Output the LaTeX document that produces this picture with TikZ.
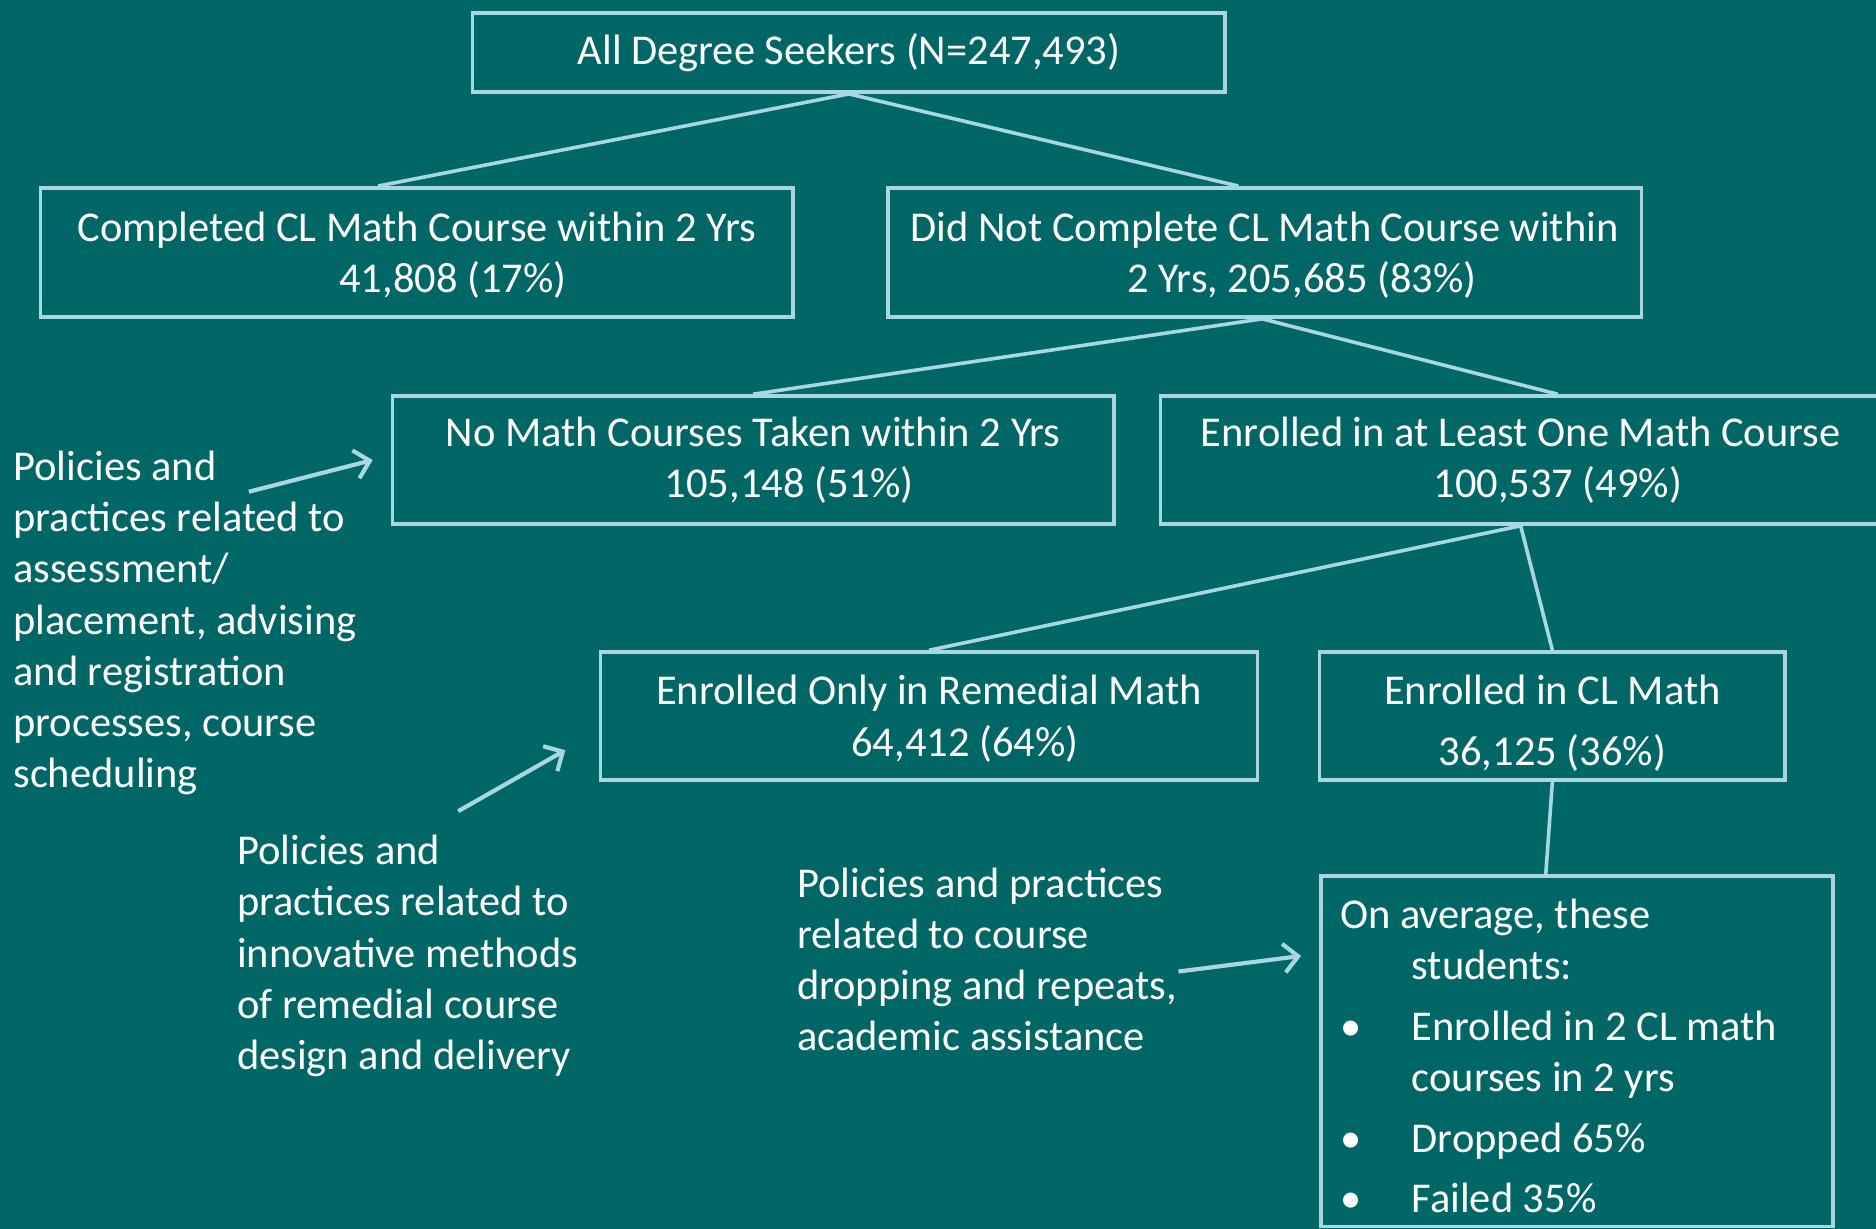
\documentclass[tikz,border=0pt]{standalone}
\usepackage{fontspec}
\setmainfont{Carlito}
\usetikzlibrary{arrows.meta}
\definecolor{bgteal}{RGB}{0,102,102}
\definecolor{edge}{RGB}{168,214,226}

\begin{document}
\begin{tikzpicture}[x=1pt, y=-1pt, text=white, font=\fontsize{35.5}{42.7}\selectfont]
    \tikzset{
        n/.style        =   { rectangle
                            , draw=edge
                            , line width=3pt
                            , align=center
                            , inner sep=0pt
        }
        , link/.style   =   { draw=edge
                            , line width=3pt
        }
        , arrow/.style  =   { draw=edge
                            , line width=3.5pt
                            , -{Straight Barb[length=12pt,width=24pt,line width=3.5pt]}
        }
        , note/.style   =   { align=flush left
                            , anchor=north west
                            , inner sep=0pt
        }
    }
    \useasboundingbox (0,0) rectangle (1568,1027);
    \fill[bgteal] (0,0) rectangle (1568,1027);
    \clip (0,0) rectangle (1568,1027);

    \node(0)[n, minimum width=629pt, minimum height=66pt]  at (709.5,44)   {All Degree Seekers (N=247,493)};
    \node(1)[n, minimum width=629pt, minimum height=108pt] at (348.5,211)  {\rule{0pt}{29pt}Completed CL Math Course within 2 Yrs\\\hspace*{60pt}41,808 (17\%)};
    \node(2)[n, minimum width=630pt, minimum height=108pt] at (1057,211)   {\rule{0pt}{29pt}Did Not Complete CL Math Course within\\\hspace*{62pt}2 Yrs, 205,685 (83\%)};
    \node(3)[n, minimum width=603pt, minimum height=107pt] at (629.5,384.5) {No Math Courses Taken within 2 Yrs\\\hspace*{60pt}105,148 (51\%)};
    \node(4)[n, minimum width=602pt, minimum height=107pt] at (1271,384.5)  {Enrolled in at Least One Math Course\\\hspace*{62pt}100,537 (49\%)};
    \node(5)[n, minimum width=549pt, minimum height=107pt] at (776.5,598.5) {\rule{0pt}{29pt}Enrolled Only in Remedial Math\\\hspace*{60pt}64,412 (64\%)};
    \node(6)[n, minimum width=389pt, minimum height=107pt] at (1297.5,598.5) {\rule{0pt}{37pt}Enrolled in CL Math\\[8pt]36,125 (36\%)};
    \node(7)[n, minimum width=428pt, minimum height=293pt, text width=396pt, align=flush left] at (1318,878.5)
        {\rule{0pt}{33pt}On average, these\\
         \hspace*{60pt}students:\\[8pt]
         \makebox[60pt][l]{\textbullet}Enrolled in 2 CL math\\
         \hspace*{60pt}courses in 2 yrs\\[8pt]
         \makebox[60pt][l]{\textbullet}Dropped 65\%\\[8pt]
         \makebox[60pt][l]{\textbullet}Failed 35\%};

    % policy notes
    \node(8)[note]  at (11,377)  {Policies and\\practices related to\\assessment/\\placement, advising\\and registration\\processes, course\\scheduling};
    \node(9)[note]  at (198,698) {Policies and\\practices related to\\innovative methods\\of remedial course\\design and delivery};
    \node(10)[note] at (666,725) {Policies and practices\\related to course\\dropping and repeats,\\academic assistance};

    \coordinate(a8)  at (208,411);
    \coordinate(a9)  at (383,678);
    \coordinate(a10) at (985,812);

    \draw[link] (0.south) -- ([xshift=-32.5pt]1.north);
    \draw[link] (0.south) -- ([xshift=-22pt]2.north);
    \draw[link] ([xshift=-2pt]2.south) -- (3.north);
    \draw[link] ([xshift=-2pt]2.south) -- ([xshift=31pt]4.north);
    \draw[link] (4.south) -- (5.north);
    \draw[link] (4.south) -- (6.north);
    \draw[link] (6.south) -- ([xshift=-26pt]7.north);

    \draw[arrow] (a8)  -- ([xshift=-15pt]3.west);
    \draw[arrow] (a9)  -- ([xshift=-28pt,yshift=-28.5pt]5.west);
    \draw[arrow] (a10) -- ([xshift=-15pt,yshift=79.5pt]7.west);
\end{tikzpicture}
\end{document}
